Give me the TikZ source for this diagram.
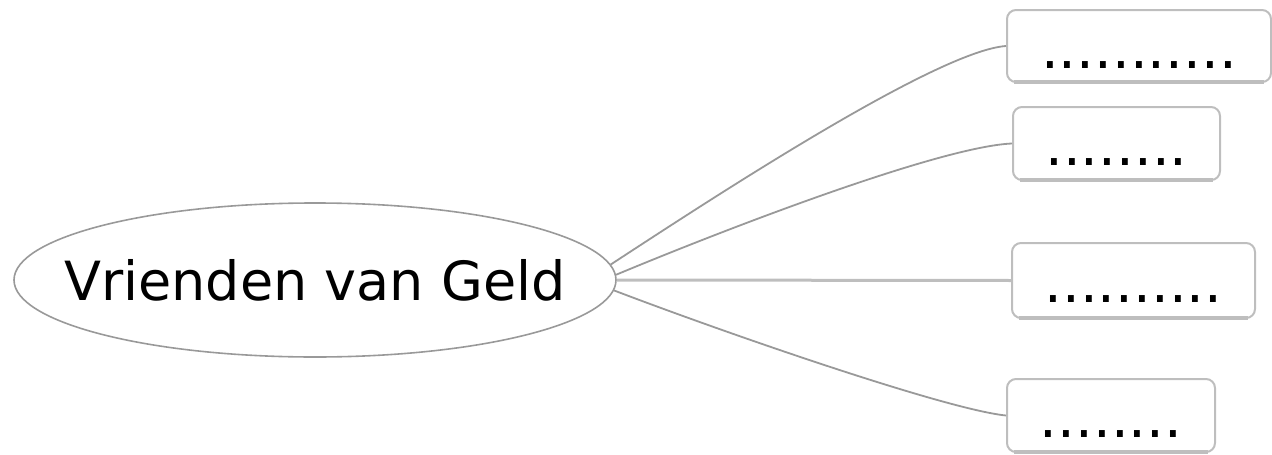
\documentclass[tikz,border=0pt]{standalone}
\usepackage{fontspec}
\setmainfont{DejaVu Sans}
\usetikzlibrary{shapes.geometric}
\definecolor{rimgray}{HTML}{999999}
\definecolor{boxgray}{HTML}{BEBEBE}
\tikzset{
    topic/.style={ellipse,draw=rimgray,line width=1.6pt,inner xsep=-40pt,inner ysep=0pt,
        minimum width=602pt,minimum height=154pt,font=\fontsize{54}{60}\selectfont,
        text depth=0pt},
    leaf/.style={rectangle,draw=boxgray,line width=2pt,rounded corners=9pt,
        inner sep=0pt,font=\fontsize{56}{60}\selectfont,
        text height=44pt,text depth=0pt},
    link/.style={draw=rimgray,line width=1.8pt},
    thicklink/.style={draw=boxgray,line width=3pt},
    bottomline/.style={draw=boxgray,line width=3.5pt}
}

\begin{document}
\begin{tikzpicture}[x=1pt,y=-1pt]
            \useasboundingbox (0,0) rectangle (1272,455);

            \node [topic] (vg) at (315,280) {Vrienden van Geld};

            \node [leaf,minimum width=264pt,minimum height=72pt] (b1) at (1139,46) {...........};
            \node [leaf,minimum width=207pt,minimum height=73pt] (b2) at (1116.5,143.5) {........};
            \node [leaf,minimum width=243pt,minimum height=75pt] (b3) at (1133.5,280.5) {..........};
            \node [leaf,minimum width=208pt,minimum height=73pt] (b4) at (1111,415.5) {........};

            \foreach \b in {b1,b2,b3,b4} {
                \draw [bottomline] ([xshift=8pt,yshift=1pt]\b.south west) -- ([xshift=-8pt,yshift=1pt]\b.south east);
            }

            \draw [link] (vg.3) .. controls +(95,-62) and +(-70,5) .. (b1.west);
            \draw [link] (vg.1.5) .. controls +(120,-50) and +(-70,3) .. (b2.west);
            \draw [thicklink] (vg.east) -- (b3.west);
            \draw [link] (vg.-2) .. controls +(110,42) and +(-60,-6) .. (b4.west);
        \end{tikzpicture}
\end{document}
